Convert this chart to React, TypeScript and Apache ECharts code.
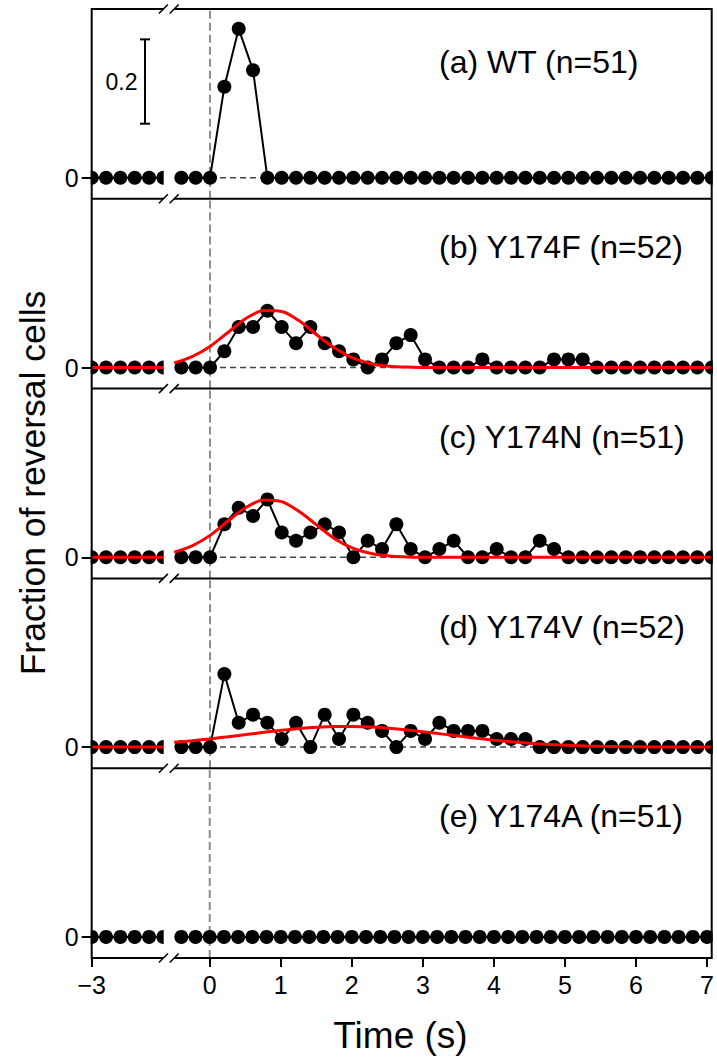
import React, { useEffect, useRef } from 'react';
import * as echarts from 'echarts';

// ---------------- data ----------------
const timesLeft = [-3.0, -2.8, -2.6, -2.4, -2.2, -2.0];
const timesRight = [
  -0.4, -0.2, 0.0, 0.2, 0.4, 0.6, 0.8, 1.0, 1.2, 1.4, 1.6, 1.8, 2.0, 2.2, 2.4, 2.6, 2.8, 3.0, 3.2,
  3.4, 3.6, 3.8, 4.0, 4.2, 4.4, 4.6, 4.8, 5.0, 5.2, 5.4, 5.6, 5.8, 6.0, 6.2, 6.4, 6.6, 6.8, 7.0,
];
const countsLeft = [0, 0, 0, 0, 0, 0];

const panelLabels = ['(a) WT (n=51)', '(b) Y174F (n=52)', '(c) Y174N (n=51)', '(d) Y174V (n=52)', '(e) Y174A (n=51)'];
const panelN = [51, 52, 51, 52, 51];

const countsA = [0, 0, 0, 11, 18, 13, 0, 0, 0, 0, 0, 0, 0, 0, 0, 0, 0, 0, 0, 0, 0, 0, 0, 0, 0, 0, 0, 0, 0, 0, 0, 0, 0, 0, 0, 0, 0, 0];
const countsB = [0, 0, 0, 2, 5, 5, 7, 5, 3, 5, 3, 2, 1, 0, 1, 3, 4, 1, 0, 0, 0, 1, 0, 0, 0, 0, 1, 1, 1, 0, 0, 0, 0, 0, 0, 0, 0, 0];
const countsC = [0, 0, 0, 4, 6, 5, 7, 3, 2, 3, 4, 3, 0, 2, 1, 4, 1, 0, 1, 2, 0, 0, 1, 0, 0, 2, 1, 0, 0, 0, 0, 0, 0, 0, 0, 0, 0, 0];
const countsD = [0, 0, 0, 9, 3, 4, 3, 1, 3, 0, 4, 1, 4, 3, 2, 0, 2, 1, 3, 2, 2, 2, 1, 1, 1, 0, 0, 0, 0, 0, 0, 0, 0, 0, 0, 0, 0, 0];
const countsE = [0, 0, 0, 0, 0, 0, 0, 0, 0, 0, 0, 0, 0, 0, 0, 0, 0, 0, 0, 0, 0, 0, 0, 0, 0, 0, 0, 0, 0, 0, 0, 0, 0, 0, 0, 0, 0, 0];
const panelCounts = [countsA, countsB, countsC, countsD, countsE];

// fitted curves (red)
const fitTimesLeft = [-3.0, -2.0];
const fitLeftValues = [0, 0];
const fitTimesBC = [-0.5, -0.25, 0, 0.25, 0.5, 0.75, 1.0, 1.25, 1.5, 1.75, 2.0, 2.25, 2.5, 2.75, 3.0, 4.0, 5.0, 6.0, 7.0];
const fitB = [0.011, 0.026, 0.05, 0.083, 0.116, 0.135, 0.133, 0.11, 0.076, 0.045, 0.022, 0.009, 0.003, 0.001, 0.0, 0, 0, 0, 0];
const fitC = [0.012, 0.027, 0.052, 0.086, 0.118, 0.136, 0.132, 0.108, 0.075, 0.043, 0.021, 0.009, 0.003, 0.001, 0.0, 0, 0, 0, 0];
const fitTimesD = [-0.5, -0.25, 0, 0.25, 0.5, 0.75, 1.0, 1.25, 1.5, 1.75, 2.0, 2.25, 2.5, 2.75, 3.0, 3.25, 3.5, 3.75, 4.0, 4.25, 4.5, 4.75, 5.0, 5.25, 5.5, 5.75, 6.0, 6.5, 7.0];
const fitD = [0.0113, 0.0151, 0.0195, 0.0245, 0.0297, 0.035, 0.0398, 0.044, 0.047, 0.0487, 0.0489, 0.0475, 0.0447, 0.0408, 0.036, 0.0308, 0.0255, 0.0205, 0.0159, 0.012, 0.0087, 0.0062, 0.0042, 0.0028, 0.0018, 0.0011, 0.0007, 0.0002, 0.0001];
const panelFits: (null | { t: number[]; v: number[] })[] = [
  null,
  { t: fitTimesBC, v: fitB },
  { t: fitTimesBC, v: fitC },
  { t: fitTimesD, v: fitD },
  null,
];

const xTicksLeft = [-3];
const xTicksRight = [0, 1, 2, 3, 4, 5, 6, 7];
const yTicks = [0];
const scaleBarValues = [0.128, 0.328];

// ---------------- layout ----------------
const FONT = "'Liberation Sans', Arial, Helvetica, sans-serif";
const L = 91.7;
const LW = 71.7;
const R0 = 174.2;
const RW = 537.5;
const TOP0 = 9;
const H = 189.8;
const YMIN = -0.05;
const YMAX = 0.4;
const labelY = [62, 247, 437, 627, 816];

function fmt(v: number) {
  return v < 0 ? '\u2212' + Math.abs(v) : String(v);
}

export default function App() {
  const ref = useRef<HTMLDivElement>(null);
  useEffect(() => {
    if (!ref.current) return;
    const chart = echarts.init(ref.current, undefined, { renderer: 'svg' });

    const grids: any[] = [];
    const xAxes: any[] = [];
    const yAxes: any[] = [];
    const series: any[] = [];
    const graphics: any[] = [];

    for (let i = 0; i < 5; i++) {
      const top = TOP0 + i * H;
      const bottomPanel = i === 4;
      grids.push({ left: L, top, width: LW, height: H });
      grids.push({ left: R0, top, width: RW, height: H });
      const li = 2 * i;
      const ri = 2 * i + 1;
      xAxes.push({
        type: 'value', gridIndex: li, min: -3, max: -2, position: 'bottom', z: 20,
        axisLine: { show: false, onZero: false }, splitLine: { show: false },
        axisTick: { show: bottomPanel, length: 9, customValues: xTicksLeft, lineStyle: { color: '#000', width: 2 } },
        axisLabel: { show: bottomPanel, customValues: xTicksLeft, formatter: fmt, fontSize: 25, color: '#000', fontFamily: FONT, margin: 14 },
      });
      xAxes.push({
        type: 'value', gridIndex: ri, min: -0.5, max: 7, position: 'bottom', z: 20,
        axisLine: { show: false, onZero: false }, splitLine: { show: false },
        axisTick: { show: bottomPanel, length: 9, customValues: xTicksRight, lineStyle: { color: '#000', width: 2 } },
        axisLabel: { show: bottomPanel, customValues: xTicksRight, formatter: fmt, fontSize: 25, color: '#000', fontFamily: FONT, margin: 14 },
      });
      yAxes.push({
        type: 'value', gridIndex: li, min: YMIN, max: YMAX, position: 'left', z: 20,
        axisLine: { show: false, onZero: false }, splitLine: { show: false },
        axisTick: { show: true, length: 10, customValues: yTicks, lineStyle: { color: '#000', width: 2 } },
        axisLabel: { show: true, customValues: yTicks, formatter: (v: number) => String(v), fontSize: 25, color: '#000', fontFamily: FONT, margin: 13 },
      });
      yAxes.push({
        type: 'value', gridIndex: ri, min: YMIN, max: YMAX, show: false,
        axisLine: { onZero: false }, splitLine: { show: false },
      });

      const n = panelN[i];
      const counts = panelCounts[i];
      const dataR = timesRight.map((t, k) => [t, counts[k] / n]);
      const dataL = timesLeft.map((t, k) => [t, countsLeft[k] / n]);

      // vertical gray dashed line at t = 0
      series.push({
        type: 'line', xAxisIndex: ri, yAxisIndex: ri, data: [[0, YMIN], [0, YMAX]],
        symbol: 'none', silent: true, animation: false, z: 1,
        lineStyle: { color: '#8c8c8c', width: 2, type: [8, 4] },
      });
      // zero dashed line
      series.push({
        type: 'line', xAxisIndex: ri, yAxisIndex: ri, data: [[0, 0], [7, 0]],
        symbol: 'none', silent: true, animation: false, z: 1,
        lineStyle: { color: '#444', width: 1.5, type: [6, 4] },
      });
      // black connecting line
      series.push({
        type: 'line', xAxisIndex: ri, yAxisIndex: ri, data: dataR,
        symbol: 'none', showSymbol: false, clip: true, animation: false, z: 2,
        lineStyle: { color: '#000', width: 2 },
      });
      series.push({
        type: 'line', xAxisIndex: li, yAxisIndex: li, data: dataL,
        symbol: 'none', showSymbol: false, clip: true, animation: false, z: 2,
        lineStyle: { color: '#000', width: 2 },
      });
      // dots
      series.push({
        type: 'scatter', xAxisIndex: ri, yAxisIndex: ri, data: dataR,
        symbol: 'circle', symbolSize: 14, clip: true, animation: false, z: 3,
        itemStyle: { color: '#000', opacity: 1 },
      });
      series.push({
        type: 'scatter', xAxisIndex: li, yAxisIndex: li, data: dataL,
        symbol: 'circle', symbolSize: 14, clip: true, animation: false, z: 3,
        itemStyle: { color: '#000', opacity: 1 },
      });
      // fitted curves
      const fit = panelFits[i];
      if (fit) {
        series.push({
          type: 'line', xAxisIndex: ri, yAxisIndex: ri, data: fit.t.map((t, k) => [t, fit.v[k]]),
          symbol: 'none', smooth: 0.3, clip: true, animation: false, z: 4,
          lineStyle: { color: '#ff0000', width: 3 },
        });
        series.push({
          type: 'line', xAxisIndex: li, yAxisIndex: li, data: fitTimesLeft.map((t, k) => [t, fitLeftValues[k]]),
          symbol: 'none', clip: true, animation: false, z: 4,
          lineStyle: { color: '#ff0000', width: 3 },
        });
      }

      // panel label
      graphics.push({
        type: 'text', x: 439, y: labelY[i], z: 100,
        style: { text: panelLabels[i], fontSize: 32, fontFamily: FONT, fill: '#000', align: 'left', verticalAlign: 'middle' },
      });
    }

    const bottom = TOP0 + 5 * H;
    // white covers so that markers are clipped at the frame and at the break
    const cover = (x: number, w: number) => ({
      type: 'rect', z: 10, silent: true,
      shape: { x, y: TOP0 - 8, width: w, height: bottom - TOP0 + 16 },
      style: { fill: '#fff' },
    });
    graphics.push(cover(L - 8, 7));
    graphics.push(cover(L + LW + 0.3, R0 - L - LW - 0.6));
    graphics.push(cover(R0 + RW + 1, 8));

    // spines
    const spine = (x1: number, y1: number, x2: number, y2: number, w = 2) => ({
      type: 'line', z: 100, silent: true,
      shape: { x1, y1, x2, y2 },
      style: { stroke: '#000', lineWidth: w },
    });
    for (let j = 0; j <= 5; j++) {
      const y = TOP0 + j * H;
      graphics.push(spine(L, y, L + LW, y));
      graphics.push(spine(R0, y, R0 + RW, y));
      graphics.push(spine(L + LW - 4.5, y + 4.5, L + LW + 4.5, y - 4.5, 1.5));
      graphics.push(spine(R0 - 4.5, y + 4.5, R0 + 4.5, y - 4.5, 1.5));
    }
    graphics.push(spine(L, TOP0 - 1, L, bottom + 1));
    graphics.push(spine(R0 + RW, TOP0 - 1, R0 + RW, bottom + 1));

    // scale bar in panel (a)
    const pxPerUnit = H / (YMAX - YMIN);
    const zeroA = TOP0 + H * (YMAX / (YMAX - YMIN));
    const yb1 = zeroA - scaleBarValues[0] * pxPerUnit;
    const yb2 = zeroA - scaleBarValues[1] * pxPerUnit;
    const xb = 145;
    graphics.push(spine(xb, yb1, xb, yb2));
    graphics.push(spine(xb - 5, yb1, xb + 5, yb1));
    graphics.push(spine(xb - 5, yb2, xb + 5, yb2));
    graphics.push({
      type: 'text', x: 137.5, y: (yb1 + yb2) / 2, z: 100,
      style: { text: '0.2', fontSize: 23, fontFamily: FONT, fill: '#000', align: 'right', verticalAlign: 'middle' },
    });

    // axis titles
    graphics.push({
      type: 'text', x: 33, y: 483, rotation: Math.PI / 2, z: 100,
      style: { text: 'Fraction of reversal cells', fontSize: 35.5, fontFamily: FONT, fill: '#000', align: 'center', verticalAlign: 'middle' },
    });
    graphics.push({
      type: 'text', x: 400.5, y: 1035, z: 100,
      style: { text: 'Time (s)', fontSize: 37, fontFamily: FONT, fill: '#000', align: 'center', verticalAlign: 'middle' },
    });

    chart.setOption({
      animation: false,
      backgroundColor: '#fff',
      grid: grids,
      xAxis: xAxes,
      yAxis: yAxes,
      series,
      graphic: graphics,
    });
    return () => chart.dispose();
  }, []);
  return <div ref={ref} style={{ position: 'absolute', left: 0, top: 0, width: 717, height: 1062 }} />;
}
